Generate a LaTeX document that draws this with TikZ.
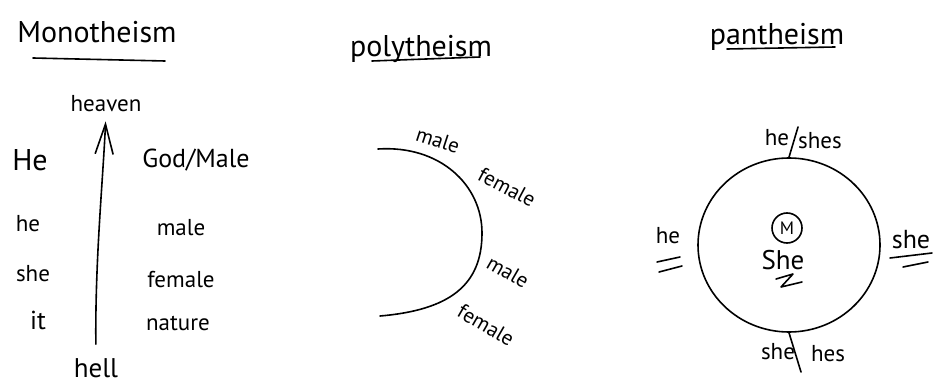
\documentclass[tikz,border=0pt]{standalone}
\usepackage{fontspec}
\setmainfont{PT Sans}
\usetikzlibrary{arrows.meta,shapes.geometric}
\begin{document}
\begin{tikzpicture}[x=1pt,y=-1pt,
  lbl/.style={font=\fontsize{23}{25}\selectfont, inner sep=0pt},
  plbl/.style={font=\fontsize{21}{23}\selectfont, inner sep=0pt},
  ttl/.style={font=\fontsize{30}{32}\selectfont, inner sep=0pt},
  ink/.style={line width=1.6pt, line cap=round, line join=round}]
\useasboundingbox[fill=white] (0,0) rectangle (933,387);
% ---------- Monotheism ----------
\node[ttl] (mono) at (97,32) {Monotheism};
\draw[ink] (33,58) -- (165,61);
\node[lbl] (heaven) at (106,104) {heaven};
\node[lbl, font=\fontsize{27}{29}\selectfont] (hell) at (96,368) {hell};
\draw[ink, -{Straight Barb[length=30pt,width=18pt]}, shorten <=14pt, shorten >=9pt]
  (hell.north) .. controls (95,260) and (103,180) .. (heaven.south);
\node[lbl, font=\fontsize{30}{32}\selectfont] (He) at (30,160) {He};
\node[lbl, font=\fontsize{26}{28}\selectfont] (god) at (196,160) {God/Male};
\node[lbl] (he1) at (28,224) {he};
\node[lbl] (male1) at (181,228) {male};
\node[lbl] (she1) at (33,274) {she};
\node[lbl] (female1) at (181,280) {female};
\node[lbl, font=\fontsize{26}{28}\selectfont] (it) at (38,320) {it};
\node[lbl] (nature) at (178,323) {nature};
% ---------- Polytheism ----------
\node[ttl] (poly) at (421,49) {polytheism};
\draw[ink] (372,61) -- (480,57);
\draw[ink] (378,149) .. controls (440,145) and (482,185) .. (482,233)
  .. controls (482,285) and (450,310) .. (380,316);
\node[plbl, rotate=-18] (pm1) at (438,140) {male};
\node[plbl, rotate=-28] (pf1) at (507,187) {female};
\node[plbl, rotate=-30] (pm2) at (508,272) {male};
\node[plbl, rotate=-30] (pf2) at (486,325) {female};
% ---------- Pantheism ----------
\node[ttl] (pan) at (777,37) {pantheism};
\draw[ink] (727,49) -- (835,47);
\node[ink, draw, ellipse, minimum width=182pt, minimum height=174pt, inner sep=0pt] (pc) at (789,245) {};
\node[lbl] (he2) at (777,138) {he};
\node[lbl] (shes) at (820,141) {shes};
\coordinate (s1) at (798,127);
\draw[ink] (s1) -- (pc.north);
\node[lbl] (she2) at (778,352) {she};
\node[lbl] (hes) at (828,354) {hes};
\coordinate (s2) at (801,372);
\draw[ink] (pc.south) -- (s2);
\node[lbl] (heL) at (668,236) {he};
\draw[ink] (657,262) -- (680,257);
\draw[ink] (659,272) -- (682,266);
\node[lbl, font=\fontsize{26}{28}\selectfont] (sheR) at (911,240) {she};
\draw[ink] (890,258) -- (932,253);
\draw[ink] (903,267) -- (928,262);
\node[ink, draw, circle, minimum size=30pt, inner sep=0pt, font=\fontsize{18}{20}\selectfont] (M) at (787,228) {M};
\node[lbl, font=\fontsize{27}{29}\selectfont] (sheC) at (783,260) {She};
\draw[ink] (776,279) -- (793,274) -- (781,287) -- (802,282);
\end{tikzpicture}
\end{document}
